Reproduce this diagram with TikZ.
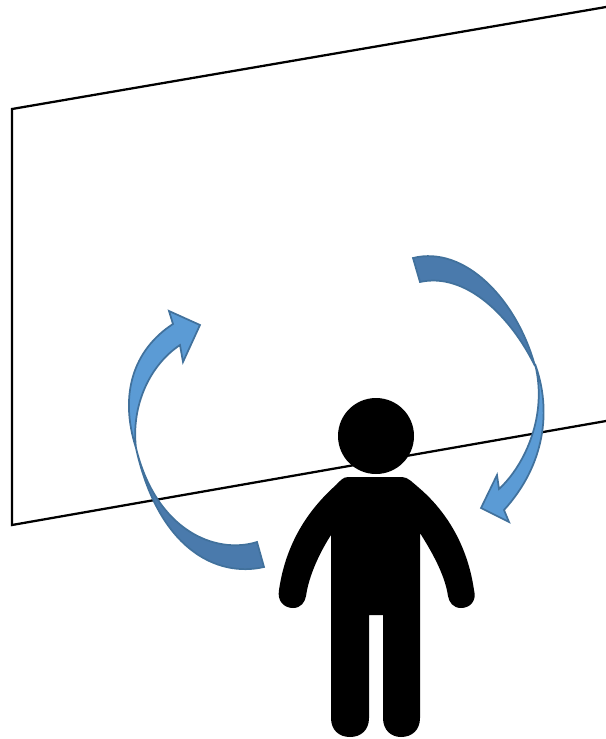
\documentclass[tikz,border=0pt]{standalone}
\usepackage{tikz}
\definecolor{arrowlight}{HTML}{5B9BD5}
\definecolor{arrowdark}{HTML}{4A7AAC}
\definecolor{arrowedge}{HTML}{41719C}
\begin{document}
\begin{tikzpicture}[
        x=0.75pt, y=-0.75pt,
        wall/.style={draw=black, line width=1.7pt, line join=miter},
        ribbonfront/.style={fill=arrowlight, draw=arrowedge, line width=1.3pt, line join=miter},
        ribbonback/.style={fill=arrowdark, draw=arrowedge, line width=1.3pt, line join=miter},
        person/.style={fill=black, draw=none}
    ]
        \useasboundingbox (0,0) rectangle (606,739);

        % wall
        \coordinate (walltop) at (606,7);
        \coordinate (wallcornerup) at (12,109);
        \coordinate (wallcornerdown) at (12,525);
        \coordinate (wallbottom) at (606,421);
        \draw[wall] (walltop) -- (wallcornerup) -- (wallcornerdown) -- (wallbottom);

        % left arrow
        \fill[ribbonback] (264,567) .. controls (216,578) and (158,548) .. (136,448)
            .. controls (156,530) and (215,555) .. (257,542) -- cycle;
        \fill[ribbonfront] (136,448) .. controls (119,395) and (133,350) .. (173,324)
            -- (169,311) -- (200,325) -- (183,362) -- (180,345)
            .. controls (150,365) and (131,405) .. (136,448) -- cycle;

        % right arrow
        \fill[ribbonback] (413,258) .. controls (465,245) and (517,300) .. (535,366)
            .. controls (510,315) and (465,272) .. (420,282) -- cycle;
        \fill[ribbonfront] (535,364) .. controls (552,410) and (545,465) .. (504,510)
            -- (509,522) -- (481,508) -- (497,475) -- (499,489)
            .. controls (525,465) and (548,415) .. (535,364) -- cycle;

        % person
        \fill[person] (376,436) circle (38);
        \fill[person] (348,477) -- (402,477)
            .. controls (408,477) and (413,483) .. (418,487)
            .. controls (437,503) and (466,535) .. (474,590)
            .. controls (477,601) and (470,608) .. (461,608)
            .. controls (453,608) and (449,602) .. (448,596)
            .. controls (445,575) and (432,552) .. (420,533)
            -- (420,718)
            .. controls (420,730) and (412,737) .. (401,737)
            .. controls (391,737) and (383,730) .. (383,718)
            -- (383,615) -- (369,615) -- (369,718)
            .. controls (369,730) and (361,737) .. (350,737)
            .. controls (339,737) and (331,730) .. (331,718)
            -- (331,535)
            .. controls (320,552) and (309,575) .. (306,596)
            .. controls (305,602) and (301,608) .. (293,608)
            .. controls (284,608) and (277,601) .. (279,590)
            .. controls (287,535) and (316,503) .. (336,485)
            .. controls (340,481) and (343,477) .. (348,477) -- cycle;
    \end{tikzpicture}
\end{document}
